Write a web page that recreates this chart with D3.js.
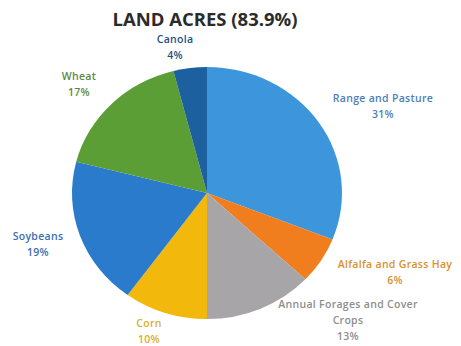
<!DOCTYPE html>
<html><head><meta charset="utf-8">
<script src="https://cdn.jsdelivr.net/npm/d3@7"></script>
<style>html,body{margin:0;padding:0;background:#fff;}svg{display:block;}</style>
</head><body>
<svg id="c" width="461" height="346"></svg>
<script>
const title = "LAND ACRES (83.9%)";
const categories = ["Range and Pasture","Alfalfa and Grass Hay","Annual Forages and Cover Crops","Corn","Soybeans","Wheat","Canola"];
const values = [31, 6, 13, 10, 19, 17, 4];
const colors = ["#3d96dc","#f07d1e","#a8a5a8","#f2b80c","#2a7bcc","#5b9e36","#1d60a0"];
const labelColors = ["#4d7fb8","#d99030","#8e8e8e","#d8ae30","#3d6fae","#5d8a45","#1f4f86"];
const labelLines = [["Range and Pasture","31%"],["Alfalfa and Grass Hay","6%"],["Annual Forages and Cover","Crops","13%"],["Corn","10%"],["Soybeans","19%"],["Wheat","17%"],["Canola","4%"]];
const labelPos = [[383,102],[395,268],[348,308],[149,327],[38,240],[79,80],[175,43]];

const svg = d3.select("#c");
const cx = 207, cy = 193, ry = 126, sx = 135/126;
const pie = d3.pie().sort(null).value(d=>d)(values);
const arc = d3.arc().innerRadius(0).outerRadius(ry);
const g = svg.append("g").attr("transform",`translate(${cx},${cy}) scale(${sx},1)`);
g.selectAll("path").data(pie).join("path").attr("d",arc).attr("fill",(d,i)=>colors[i]);

svg.append("text").attr("x",205).attr("y",26).attr("text-anchor","middle")
  .attr("font-family","Open Sans, sans-serif").attr("font-weight","bold").attr("font-size",18.5)
  .attr("fill","#2b2b2b").text(title);

labelLines.forEach((lines,i)=>{
  const t = svg.append("text").attr("text-anchor","middle")
    .attr("font-family","Open Sans, sans-serif").attr("font-weight","600").attr("font-size",10.5)
    .attr("letter-spacing",0.3)
    .attr("fill",labelColors[i]);
  lines.forEach((l,j)=>{
    t.append("tspan").attr("x",labelPos[i][0]).attr("y",labelPos[i][1]+j*16).text(l);
  });
});
</script>
</body></html>
